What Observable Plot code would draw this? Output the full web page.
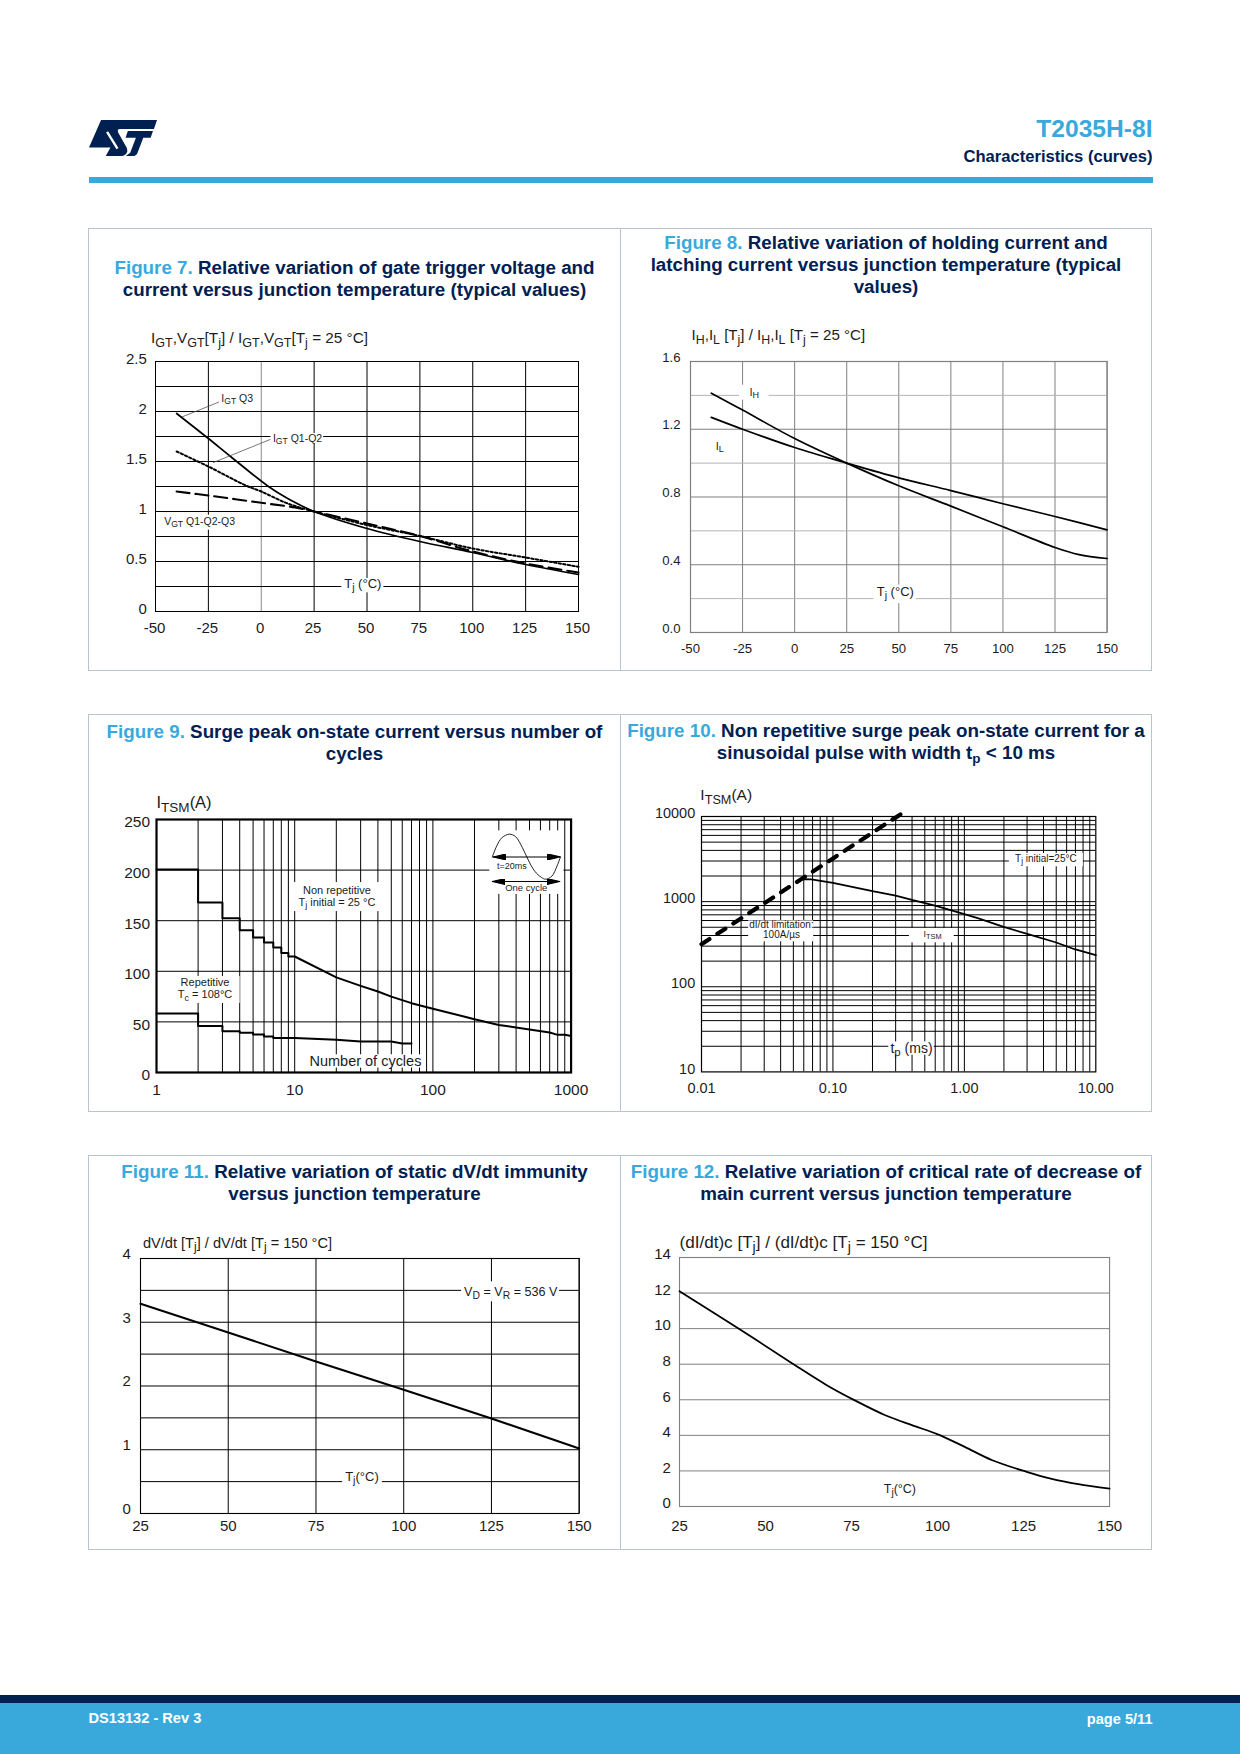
<!DOCTYPE html>
<html><head><meta charset="utf-8">
<script src="https://cdn.jsdelivr.net/npm/d3@7"></script>
<script src="https://cdn.jsdelivr.net/npm/@observablehq/plot@0.6"></script>
<style>
html,body{margin:0;padding:0;background:#fff;}
#page{position:relative;width:1240px;height:1754px;overflow:hidden;font-family:"Liberation Sans",Arial,sans-serif;}
.abs{position:absolute;}
.panel{position:absolute;border:1px solid #b9c5cc;box-sizing:border-box;}
.title{position:absolute;text-align:center;font-weight:700;color:#002052;font-size:18.8px;line-height:22.2px;white-space:nowrap;}
.title b{color:#39a9dc;font-weight:700;}
.title sub{font-size:13.5px;line-height:0;vertical-align:-4px;}
svg.pl{position:absolute;overflow:visible;}
</style></head><body><div id="page"></div>
<script>
// ---------- Figure 7 ----------
const f7Tj = [-40,-25,-14.5,3.4,12.5,25,50,75,100,125,150];
const f7IgtQ3 = [1.98,1.73,1.55,1.25,1.13,1.0,0.83,0.70,0.59,0.47,0.37];
const f7DotTj = [-40,-25,-7,0,12.5,25,50,75,100,125,150];
const f7IgtQ12 = [1.6,1.45,1.257,1.2,1.08,1.0,0.865,0.755,0.63,0.54,0.447];
const f7DashTj = [-40,-25,0,16,25,50,75,100,125,150];
const f7Vgt = [1.2,1.16,1.087,1.04,1.0,0.88,0.755,0.6,0.48,0.39];
const tempTicks = [-50,-25,0,25,50,75,100,125,150];
const f7YTicks = [0,0.5,1,1.5,2,2.5];
const f7YGrid = [0.25,0.5,0.75,1,1.25,1.5,1.75,2,2.25];
// ---------- Figure 8 ----------
const f8IhTj = [-40,-25,0,25,50,75,100,125,136.5,150];
const f8Ih = [1.413,1.313,1.145,1.0,0.866,0.746,0.624,0.502,0.46,0.437];
const f8IlTj = [-40,-25,0,25,50,75,100,125,150];
const f8Il = [1.27,1.2,1.092,1.0,0.913,0.838,0.76,0.685,0.606];
const f8YTicks = [0,0.4,0.8,1.2,1.6];
const f8YMinor = [0.2,0.6,1.0,1.4];
const f8YMajor = [0.4,0.8,1.2];
// ---------- Figure 9 ----------
const f9NonRepN = [1,2,2,3,3,4,4,5,5,6,6,7,7,8,8,9,9,10,20,30,40,50,70,100,200,300,400,700,800,900,1000];
const f9NonRep = [200.6,200.6,168,168,152.5,152.5,140.6,140.6,133.4,133.4,128.5,128.5,123.5,123.5,118,118,114.6,114.6,94,85.6,80,75,68.5,63,52.7,47,44.5,39.5,37.2,37.2,36];
const f9RepN = [1,2,2,3,3,4,4,5,5,6,6,7,7,10,20,30,50,60,70];
const f9Rep = [58.3,58.3,46,46,40.8,40.8,39.2,39.2,37.5,37.5,35.6,35.6,34,34,32.3,30.6,30.6,28.7,28.7];
const f9XTicks = [1,10,100,1000];
const f9XGrid = [2,3,4,5,6,7,8,9,10,20,30,40,50,60,70,80,90,100,200,300,400,500,600,700,800,900];
const f9YTicks = [0,50,100,150,200,250];
const f9WaveN = [269,290,316,358,397,445,486,545,611,654,726,791,838];
const f9WaveA = [213,224,232,235.5,233,222,211,199,192.7,191,194,204,213];
// ---------- Figure 10 ----------
const f10LimTp = [0.01,0.329];
const f10Lim = [316,10670];
const f10Tp = [0.053,0.059,0.0686,0.1,0.2,0.3,0.406,0.608,1,1.28,1.99,3.05,5,6.9,10];
const f10Itsm = [1750,1835,1822,1663,1327,1180,1040,893,713,634,505,415,331,276,235];
const f10XTicks = [0.01,0.1,1,10];
const f10XGrid = [0.02,0.03,0.04,0.05,0.06,0.07,0.08,0.09,0.1,0.2,0.3,0.4,0.5,0.6,0.7,0.8,0.9,1,2,3,4,5,6,7,8,9];
const f10YTicks = [10,100,1000,10000];
const f10YGrid = [20,30,40,50,60,70,80,90,100,200,300,400,500,600,700,800,900,1000,2000,3000,4000,5000,6000,7000,8000,9000];
// ---------- Figure 11 ----------
const f11Tj = [25,50,75,100,125,150];
const f11Dvdt = [3.29,2.84,2.384,1.94,1.49,1.02];
const f11YTicks = [0,1,2,3,4];
const f11YGrid = [0.5,1,1.5,2,2.5,3,3.5];
// ---------- Figure 12 ----------
const f12Tj = [25,41.8,57.8,67.8,75.8,84.8,92.9,99.9,107.9,115.9,125.9,132.9,140.9,150];
const f12Didt = [12.1,10.05,8.04,6.82,5.98,5.13,4.55,4.07,3.35,2.6,1.95,1.57,1.26,1.01];
const f12YTicks = [0,2,4,6,8,10,12,14];
const f12YGrid = [2,4,6,8,10,12];
const f1112XTicks = [25,50,75,100,125,150];

const page = document.getElementById("page");
const FONT = '"Liberation Sans",Arial,sans-serif';
const INK = "#1c1c1c";
const SMOOTH = "catmull-rom";

function div(cls, css, html){
  const d = document.createElement("div");
  d.className = cls; d.style.cssText = css;
  if (html) d.innerHTML = html;
  page.appendChild(d); return d;
}
const pts = (xs, ys) => xs.map((x,i)=>({x, y:ys[i]}));
const curve = (xs, ys, o) => Plot.line(pts(xs,ys), {x:"x", y:"y", stroke:"black", ...o});
const box = (x1,x2,y1,y2) => Plot.rect([0], {x1:()=>x1, x2:()=>x2, y1:()=>y1, y2:()=>y2, fill:"white"});
const lab = (t,x,y,fontSize,o={}) => Plot.text([t], {x:()=>x, y:()=>y, fontSize, fill:INK, fontFamily:FONT, ...o});
const vRules = (v,o={}) => Plot.ruleX(v, {stroke:"black", strokeWidth:1, ...o});
const hRules = (v,o={}) => Plot.ruleY(v, {stroke:"black", strokeWidth:1, ...o});
const SVGNS = "http://www.w3.org/2000/svg";
function solidArrow(color){
  const m = document.createElementNS(SVGNS,"marker");
  m.setAttribute("viewBox","-13 -3 13 6");
  m.setAttribute("markerWidth",13); m.setAttribute("markerHeight",6);
  m.setAttribute("markerUnits","userSpaceOnUse");
  m.setAttribute("orient","auto-start-reverse");
  m.setAttribute("refX",0); m.setAttribute("refY",0);
  const p = document.createElementNS(SVGNS,"path");
  p.setAttribute("d","M-13,-3L0,0L-13,3Z"); p.setAttribute("fill",color);
  m.appendChild(p);
  return m;
}

function subscripts(svg){
  svg.querySelectorAll("text").forEach(t=>{
    const s = t.textContent;
    if (!s.includes("_{")) return;
    const fs = parseFloat(getComputedStyle(t).fontSize);
    const drop = fs*0.22, small = fs*0.82;
    t.textContent = "";
    let pending = 0;
    s.split(/(_\{[^}]*\})/).forEach(part=>{
      if (!part) return;
      const ts = document.createElementNS(SVGNS,"tspan");
      const isSub = part.startsWith("_{");
      ts.textContent = isSub ? part.slice(2,-1) : part;
      if (isSub){ ts.setAttribute("font-size",small); ts.setAttribute("dy",drop); pending = -drop; }
      else if (pending){ ts.setAttribute("dy",pending); pending = 0; }
      t.appendChild(ts);
    });
  });
}

const M = {l:70,r:30,t:60,b:40};
function chart(c, marks){
  const plot = Plot.plot({
    width: c.w + M.l + M.r, height: c.h + M.t + M.b,
    marginLeft:M.l, marginRight:M.r, marginTop:M.t, marginBottom:M.b,
    x:{domain:c.xd, type:c.xt||"linear", label:null},
    y:{domain:c.yd, type:c.yt||"linear", label:null},
    style:{background:"transparent", fontFamily:FONT, color:INK, overflow:"visible"},
    marks
  });
  plot.classList.add("pl");
  plot.style.left = (c.x - M.l) + "px";
  plot.style.top = (c.y - M.t) + "px";
  page.appendChild(plot);
  subscripts(plot);
  return plot;
}
const axX = (ticks,o) => Plot.axisX({ticks, anchor:"bottom", tickSize:0, tickFormat:d=>String(d), fill:INK, ...o});
const axY = (ticks,o) => Plot.axisY({ticks, anchor:"left", tickSize:0, tickFormat:d=>String(d), fill:INK, ...o});

// ---------- page furniture ----------
div("abs","left:0;top:0;width:1240px;height:1754px;background:#fff");
div("abs","left:88.5px;top:120px;width:68px;height:36px",
 '<svg viewBox="12 15 203 107" width="68" height="36" preserveAspectRatio="none" style="display:block"><path fill="#002052" d="M48 15H215L206 42H105Q95 42 99 52L125 98Q131 116 112 122H62L76 97H12Z"/><path d="M66 50L97 100" stroke="#fff" stroke-width="7" fill="none"/><path fill="#002052" d="M128 48H203L196 68H174L157 112Q153 122 142 122H122L135 112L152 68H121Z"/></svg>');
div("abs","right:87.5px;top:114px;font-size:24.6px;font-weight:700;color:#39a9dc;line-height:30px","T2035H-8I");
div("abs","right:87.5px;top:147px;font-size:16.6px;font-weight:700;color:#002052;line-height:20px","Characteristics (curves)");
div("abs","left:88.5px;top:177px;width:1064px;height:6px;background:#39a9dc");
div("abs","left:0;top:1695px;width:1240px;height:8px;background:#002052");
div("abs","left:0;top:1703px;width:1240px;height:51px;background:#39a9dc");
div("abs","left:88.5px;top:1710px;font-size:14.6px;font-weight:700;color:#fff;line-height:16px","DS13132 - Rev 3");
div("abs","right:87.5px;top:1711px;font-size:14.6px;font-weight:700;color:#fff;line-height:16px","page 5/11");

// panels
[[88,227.5,443.5],[88,714,397.5],[88,1155,394.5]].forEach(([x,y,h])=>{
  div("panel",`left:${x}px;top:${y}px;width:533px;height:${h}px`);
  div("panel",`left:620px;top:${y}px;width:532px;height:${h}px`);
});
const title = (cx,top,html)=>div("title",`left:${cx-265}px;width:530px;top:${top}px`,html);
title(354.5,257,"<b>Figure 7.</b> Relative variation of gate trigger voltage and<br>current versus junction temperature (typical values)");
title(886,232,"<b>Figure 8.</b> Relative variation of holding current and<br>latching current versus junction temperature (typical<br>values)");
title(354.5,721,"<b>Figure 9.</b> Surge peak on-state current versus number of<br>cycles");
title(886,720,"<b>Figure 10.</b> Non repetitive surge peak on-state current for a<br>sinusoidal pulse with width t<sub>p</sub> &lt; 10 ms");
title(354.5,1161,"<b>Figure 11.</b> Relative variation of static dV/dt immunity<br>versus junction temperature");
title(886,1161,"<b>Figure 12.</b> Relative variation of critical rate of decrease of<br>main current versus junction temperature");

// ---------- Figure 7 chart ----------
chart({x:154.7,y:361.3,w:423,h:250,xd:[-50,150],yd:[0,2.5]},[
  vRules(tempTicks.filter(d=>d!==0)),
  vRules([0],{stroke:"#8a8a8a"}),
  hRules(f7YGrid),
  Plot.frame({stroke:"black",strokeWidth:1}),
  box(38.1,58,0.187,0.33),
  box(-47.6,-10.4,0.813,0.963),
  box(4.6,29.5,1.673,1.78),
  curve(f7Tj,f7IgtQ3,{strokeWidth:1.7,curve:SMOOTH}),
  curve(f7DotTj,f7IgtQ12,{strokeWidth:2,strokeDasharray:"2.4 2.2",curve:SMOOTH}),
  curve(f7DashTj,f7Vgt,{strokeWidth:2.1,strokeDasharray:"13 6",curve:SMOOTH}),
  Plot.line(pts([-20.2,-37.3],[2.093,1.947]),{x:"x",y:"y",stroke:"#555",strokeWidth:.8}),
  Plot.line(pts([4.2,-22.6],[1.72,1.49]),{x:"x",y:"y",stroke:"#555",strokeWidth:.8}),
  lab("I_{GT} Q3",-18.9,2.127,10.5,{textAnchor:"start"}),
  lab("I_{GT} Q1-Q2",5.5,1.727,10.5,{textAnchor:"start"}),
  lab("V_{GT} Q1-Q2-Q3",-45.9,0.897,10.5,{textAnchor:"start"}),
  lab("T_{j} (°C)",48,0.273,13),
  lab("I_{GT},V_{GT}[T_{j}] / I_{GT},V_{GT}[T_{j} = 25 °C]",-52.1,2.5,15.3,{textAnchor:"start",dy:-23}),
  axX(tempTicks,{fontSize:15,tickPadding:11,dx:-1}),
  axY(f7YTicks,{fontSize:15,tickPadding:8.7,dy:-2.5}),
]);

// ---------- Figure 8 chart ----------
chart({x:689.6,y:361.3,w:416.6,h:271,xd:[-50,150],yd:[0,1.6]},[
  vRules(tempTicks,{stroke:"#808080"}),
  hRules(f8YMinor,{stroke:"#b4b4b4"}),
  hRules(f8YMajor,{stroke:"#808080"}),
  Plot.frame({stroke:"#808080",strokeWidth:1.2}),
  box(38.1,58.4,0.171,0.28),
  box(-26.4,-12.3,1.372,1.46),
  curve(f8IhTj,f8Ih,{strokeWidth:1.7,curve:SMOOTH}),
  curve(f8IlTj,f8Il,{strokeWidth:1.7,curve:SMOOTH}),
  lab("I_{H}",-19.4,1.417,11),
  lab("I_{L}",-36,1.10,11),
  lab("T_{j} (°C)",48.3,0.24,13),
  lab("I_{H},I_{L} [T_{j}] / I_{H},I_{L} [T_{j} = 25 °C]",-49.5,1.6,15.1,{textAnchor:"start",dy:-26}),
  axX(tempTicks,{fontSize:13.2,tickPadding:11,letterSpacing:"0.4px"}),
  axY(f8YTicks,{fontSize:13.2,tickPadding:10,dy:-4,letterSpacing:"0.4px",tickFormat:d=>d.toFixed(1)}),
]);

// ---------- Figure 9 chart ----------
chart({x:156.4,y:818.7,w:414.6,h:253,xd:[1,1000],xt:"log",yd:[0,250]},[
  vRules(f9XGrid),
  hRules(f9YTicks.slice(1,-1)),
  box(9.8,41.7,159,187.7),
  box(1.258,4.03,68.2,94.9),
  box(12.7,83,4.3,17.5),
  box(258,887,176,238.8),
  Plot.frame({stroke:"black",strokeWidth:2.2}),
  curve(f9NonRepN,f9NonRep,{strokeWidth:2}),
  curve(f9RepN,f9Rep,{strokeWidth:2}),
  curve(f9WaveN,f9WaveA,{strokeWidth:1,curve:SMOOTH,stroke:"#222"}),
  Plot.line(pts([273,838],[213,213]),{x:"x",y:"y",stroke:"black",strokeWidth:1.1,markerStart:solidArrow,markerEnd:solidArrow}),
  Plot.line(pts([269,828],[188.7,188.7]),{x:"x",y:"y",stroke:"black",strokeWidth:1.1,markerStart:solidArrow,markerEnd:solidArrow}),
  lab("t=20ms",373,204,9),
  lab("One cycle",474,182,9.5),
  lab("Non repetitive",20.2,179.8,11),
  lab("T_{j} initial = 25 °C",20.2,168.3,11),
  lab("Repetitive",2.245,88.9,11),
  lab("T_{c} = 108°C",2.245,77,11),
  lab("Number of cycles",32.5,11.2,14.5),
  lab("I_{TSM}(A)",1,250,16.5,{textAnchor:"start",dy:-16.7}),
  axX(f9XTicks,{fontSize:15.5,tickPadding:11.5}),
  axY(f9YTicks,{fontSize:15.5,tickPadding:6.4,dy:3}),
]);

// ---------- Figure 10 chart ----------
chart({x:701.3,y:816.3,w:394.3,h:255.4,xd:[0.01,10],xt:"log",yd:[10,10000],yt:"log"},[
  vRules(f10XGrid),
  hRules(f10YGrid),
  Plot.frame({stroke:"black",strokeWidth:1.2}),
  box(2.2,8.04,2564,3681),
  box(0.02285,0.0714,337,594),
  box(0.382,0.8375,328,483),
  box(0.266,0.59,15.7,22.5),
  curve(f10LimTp,f10Lim,{strokeWidth:4.2,strokeDasharray:"9.5 9.5"}),
  curve(f10Tp,f10Itsm,{strokeWidth:1.8}),
  lab("T_{j} initial=25°C",4.17,3184,10),
  lab("dI/dt limitation:",0.0406,534,10),
  lab("100A/µs",0.0406,407,10),
  lab("I_{TSM}",0.573,415,9),
  lab("t_{p} (ms)",0.396,18.8,14),
  lab("I_{TSM}(A)",0.0098,10000,15.5,{textAnchor:"start",dy:-21}),
  axX(f10XTicks,{fontSize:14.5,tickPadding:11,tickFormat:d=>d.toFixed(2)}),
  axY(f10YTicks,{fontSize:14.5,tickPadding:6.3,dy:-3}),
]);

// ---------- Figure 11 chart ----------
chart({x:139.6,y:1258.3,w:438.7,h:255,xd:[25,150],yd:[0,4]},[
  vRules(f1112XTicks),
  hRules(f11YGrid),
  Plot.frame({stroke:"black",strokeWidth:1.1}),
  box(116.5,144.4,3.32,3.634),
  box(82.6,93.9,0.418,0.654),
  curve(f11Tj,f11Dvdt,{strokeWidth:2}),
  lab("V_{D} = V_{R} = 536 V",130.5,3.477,12.6),
  lab("T_{j}(°C)",88.1,0.57,13),
  lab("dV/dt [T_{j}] / dV/dt [T_{j} = 150 °C]",25.7,4,14.6,{textAnchor:"start",dy:-15}),
  axX(f1112XTicks,{fontSize:15,tickPadding:6.5}),
  axY(f11YTicks,{fontSize:15,tickPadding:9.6,dy:-4.5}),
]);

// ---------- Figure 12 chart ----------
chart({x:679.2,y:1257.3,w:430.1,h:249,xd:[25,150],yd:[0,14]},[
  hRules(f12YGrid,{stroke:"#808080"}),
  Plot.frame({stroke:"#808080",strokeWidth:1.1}),
  curve(f12Tj,f12Didt,{strokeWidth:1.8,curve:SMOOTH}),
  lab("T_{j}(°C)",89.05,0.975,12.5),
  lab("(dI/dt)c [T_{j}] / (dI/dt)c [T_{j} = 150 °C]",25,14,17.1,{textAnchor:"start",dy:-14.6}),
  axX(f1112XTicks,{fontSize:15,tickPadding:14,letterSpacing:"0.4px"}),
  axY(f12YTicks,{fontSize:15,tickPadding:8.6,dy:-3}),
]);
</script></body></html>
